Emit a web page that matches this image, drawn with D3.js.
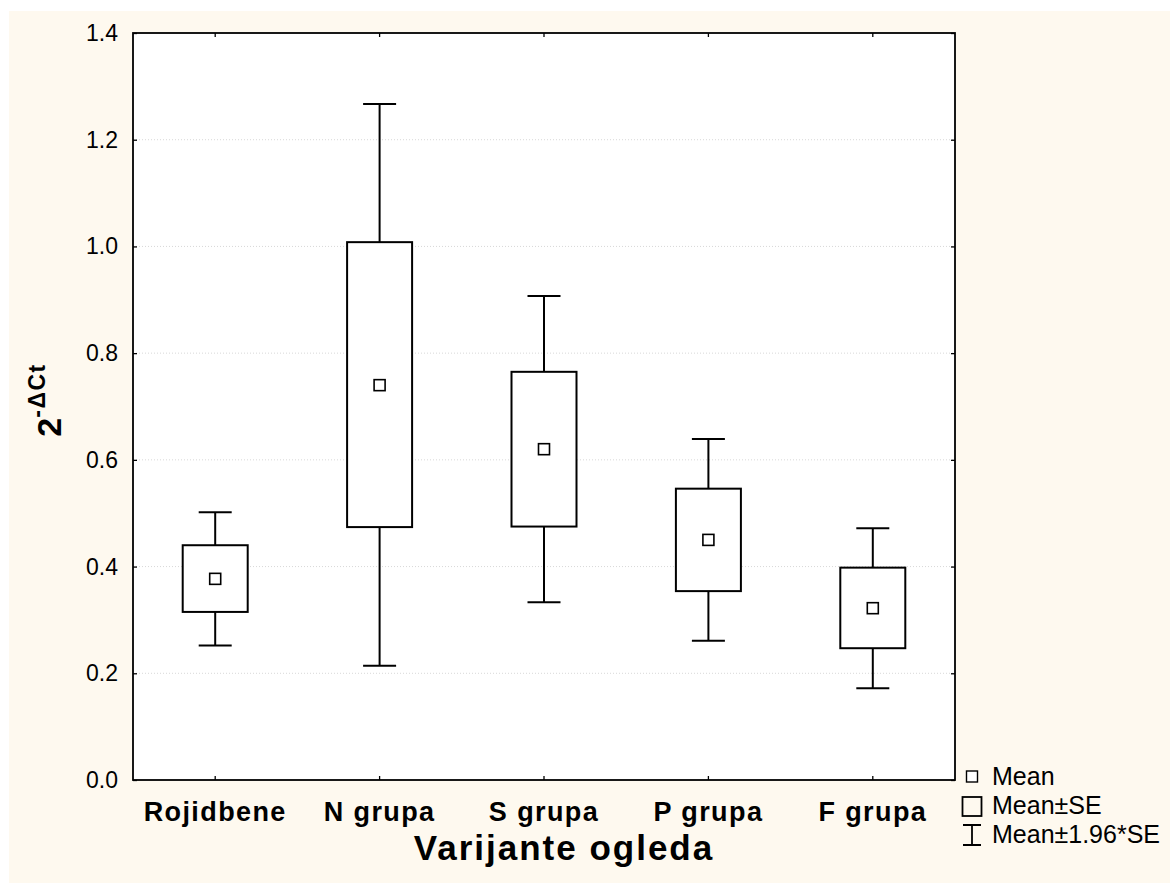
<!DOCTYPE html>
<html>
<head>
<meta charset="utf-8">
<script src="https://cdn.jsdelivr.net/npm/d3@7"></script>
<style>
  body { margin: 0; background: #fff; }
  text { font-family: "Liberation Sans", Arial, sans-serif; fill: #000; }
</style>
</head>
<body>
<svg width="1170" height="883"></svg>
<script>
// data
var groups = ["Rojidbene", "N grupa", "S grupa", "P grupa", "F grupa"];
var means  = [0.377, 0.740, 0.620, 0.450, 0.322];
var seLow  = [0.315, 0.474, 0.475, 0.354, 0.247];
var seHigh = [0.440, 1.008, 0.765, 0.546, 0.398];
var ciLow  = [0.252, 0.214, 0.333, 0.261, 0.172];
var ciHigh = [0.502, 1.267, 0.907, 0.639, 0.472];
var yTicks = [0.0, 0.2, 0.4, 0.6, 0.8, 1.0, 1.2, 1.4];
var legendItems = ["Mean", "Mean\u00b1SE", "Mean\u00b11.96*SE"];

var svg = d3.select("svg");

// cream page background
svg.append("rect")
  .attr("x", 9).attr("y", 11)
  .attr("width", 1161).attr("height", 872)
  .attr("fill", "#fef9ef");

var pL = 133, pR = 955, pT = 33, pB = 780;

var x = d3.scaleBand().domain(groups).range([pL, pR]);
var y = d3.scaleLinear().domain([0, 1.4]).range([pB, pT]);

// plot area
svg.append("rect")
  .attr("x", pL).attr("y", pT)
  .attr("width", pR - pL).attr("height", pB - pT)
  .attr("fill", "#fff");

// dotted grid
svg.append("g").selectAll("line")
  .data(yTicks.slice(1, -1))
  .enter().append("line")
  .attr("x1", pL).attr("x2", pR)
  .attr("y1", function(d) { return y(d); })
  .attr("y2", function(d) { return y(d); })
  .attr("stroke", "#d8d8d8")
  .attr("stroke-dasharray", "1,2");

// axes (ticks pointing inward)
var fmt = d3.format(".1f");
var yAxis = svg.append("g")
  .attr("transform", "translate(" + pL + ",0)")
  .call(d3.axisRight(y).tickValues(yTicks).tickSize(4).tickFormat(""));
var yRight = svg.append("g")
  .attr("transform", "translate(" + pR + ",0)")
  .call(d3.axisLeft(y).tickValues(yTicks).tickSize(4).tickFormat(""));
var xBottom = svg.append("g")
  .attr("transform", "translate(0," + pB + ")")
  .call(d3.axisTop(x).tickSize(4).tickFormat(""));
var xTop = svg.append("g")
  .attr("transform", "translate(0," + pT + ")")
  .call(d3.axisBottom(x).tickSize(4).tickFormat(""));
[yAxis, yRight, xBottom, xTop].forEach(function(a) {
  a.select(".domain").remove();
  a.selectAll(".tick line").attr("stroke", "#000").attr("stroke-width", 1.3);
});

// y tick labels
svg.append("g").selectAll("text")
  .data(yTicks)
  .enter().append("text")
  .attr("x", 118)
  .attr("y", function(d) { return y(d) + 8; })
  .attr("text-anchor", "end")
  .style("font-size", "23px")
  .text(function(d) { return fmt(d); });

// category labels
svg.append("g").selectAll("text")
  .data(groups)
  .enter().append("text")
  .attr("x", function(d) { return x(d) + x.bandwidth() / 2; })
  .attr("y", 821)
  .attr("text-anchor", "middle")
  .style("font-size", "27px")
  .style("font-weight", "bold")
  .style("letter-spacing", "1.4px")
  .text(function(d) { return d; });

// axis titles
svg.append("text")
  .attr("x", 564)
  .attr("y", 860)
  .attr("text-anchor", "middle")
  .style("font-size", "35px")
  .style("font-weight", "bold")
  .style("letter-spacing", "2px")
  .text("Varijante ogleda");

var yt = svg.append("text")
  .attr("transform", "translate(61,400) rotate(-90)")
  .attr("text-anchor", "middle")
  .style("font-weight", "bold");
yt.append("tspan").style("font-size", "34px").text("2");
yt.append("tspan").attr("dy", -16).style("font-size", "23px")
  .style("letter-spacing", "1.5px").text("-\u0394Ct");

// box plots
var boxW = 65, capW = 33, meanS = 11;
var g = svg.append("g").attr("fill", "none").attr("stroke", "#000");
groups.forEach(function(name, i) {
  var cx = x(name) + x.bandwidth() / 2;
  // whiskers
  g.append("line").attr("x1", cx).attr("x2", cx)
    .attr("y1", y(ciHigh[i])).attr("y2", y(seHigh[i])).attr("stroke-width", 2);
  g.append("line").attr("x1", cx).attr("x2", cx)
    .attr("y1", y(seLow[i])).attr("y2", y(ciLow[i])).attr("stroke-width", 2);
  g.append("line").attr("x1", cx - capW / 2).attr("x2", cx + capW / 2)
    .attr("y1", y(ciHigh[i])).attr("y2", y(ciHigh[i])).attr("stroke-width", 2);
  g.append("line").attr("x1", cx - capW / 2).attr("x2", cx + capW / 2)
    .attr("y1", y(ciLow[i])).attr("y2", y(ciLow[i])).attr("stroke-width", 2);
  // SE box
  g.append("rect")
    .attr("x", cx - boxW / 2).attr("y", y(seHigh[i]))
    .attr("width", boxW).attr("height", y(seLow[i]) - y(seHigh[i]))
    .attr("fill", "#fff").attr("stroke-width", 2);
  // mean marker
  g.append("rect")
    .attr("x", cx - meanS / 2).attr("y", y(means[i]) - meanS / 2)
    .attr("width", meanS).attr("height", meanS)
    .attr("fill", "#fff").attr("stroke-width", 1.6);
});

// frame
svg.append("rect")
  .attr("x", pL).attr("y", pT)
  .attr("width", pR - pL).attr("height", pB - pT)
  .attr("fill", "none").attr("stroke", "#000").attr("stroke-width", 1.8);

// legend
var lg = svg.append("g");
var lx = 972, ly = [785, 814, 843];
lg.append("rect").attr("x", lx - 5.5).attr("y", 771).attr("width", 11).attr("height", 11)
  .attr("fill", "#fff").attr("stroke", "#000").attr("stroke-width", 1.4);
lg.append("rect").attr("x", lx - 9.5).attr("y", 797).attr("width", 19).attr("height", 19)
  .attr("fill", "none").attr("stroke", "#000").attr("stroke-width", 1.8);
lg.append("path").attr("d", "M" + (lx - 9) + ",825H" + (lx + 9) + "M" + lx + ",825V845M" + (lx - 9) + ",845H" + (lx + 9))
  .attr("fill", "none").attr("stroke", "#000").attr("stroke-width", 1.8);
lg.selectAll("text")
  .data(legendItems)
  .enter().append("text")
  .attr("x", 992)
  .attr("y", function(d, i) { return ly[i]; })
  .style("font-size", "25px")
  .text(function(d) { return d; });
</script>
</body>
</html>
